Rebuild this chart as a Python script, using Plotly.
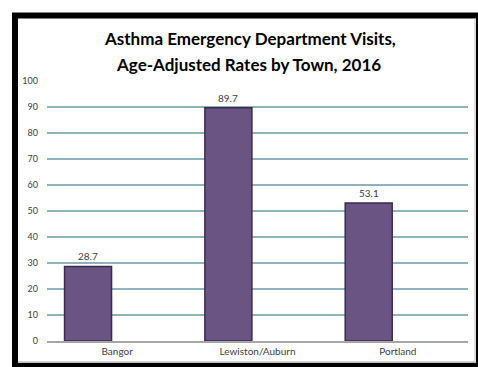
import plotly.graph_objects as go

towns = ["Bangor", "Lewiston/Auburn", "Portland"]
rates = [28.7, 89.7, 53.1]
y_ticks = [0, 10, 20, 30, 40, 50, 60, 70, 80, 90, 100]

W, H = 478, 367
L, R, T, B = 47, 10, 81, 24
PW, PH = W - L - R, H - T - B

def px(x):
    return (x - L) / PW

def py(y):
    return (H - B - y) / PH

BAR_W = 0.335
BAR_OFF = -0.375
slot_px = PW / len(towns)
label_shift = (BAR_OFF + BAR_W / 2) * slot_px

fig = go.Figure(go.Bar(
    x=towns, y=rates,
    width=BAR_W, offset=BAR_OFF,
    marker=dict(color="#6a5484", line=dict(color="#3b2b4c", width=1.5)),
))

shapes = [
    dict(type="rect", xref="paper", yref="paper",
         x0=px(15), x1=px(479), y0=py(15), y1=py(368),
         line=dict(color="black", width=6), fillcolor="rgba(0,0,0,0)", layer="above"),
    dict(type="line", xref="paper", yref="paper",
         x0=px(475), x1=px(475), y0=py(18), y1=py(364),
         line=dict(color="#bdbdbd", width=1)),
    dict(type="line", xref="paper", yref="paper",
         x0=px(18), x1=px(475), y0=py(364), y1=py(364),
         line=dict(color="#bdbdbd", width=1)),
]

annotations = [
    dict(text="<b>Asthma Emergency Department Visits,</b>", xref="paper", yref="paper",
         x=px(250), y=py(38), showarrow=False, xanchor="center", yanchor="middle",
         font=dict(family="Lato", size=17, color="#000000")),
    dict(text="<b>Age-Adjusted Rates by Town, 2016</b>", xref="paper", yref="paper",
         x=px(248), y=py(64), showarrow=False, xanchor="center", yanchor="middle",
         font=dict(family="Lato", size=17, color="#000000")),
]
for t, v in zip(towns, rates):
    annotations.append(dict(
        text=f"{v:.1f}", x=t, y=v, xref="x", yref="y", showarrow=False,
        xanchor="center", yanchor="middle", xshift=label_shift, yshift=10,
        font=dict(family="Lato", size=10, color="#404040")))

fig.update_layout(
    width=W, height=H,
    margin=dict(l=L, r=R, t=T, b=B),
    paper_bgcolor="white", plot_bgcolor="white",
    showlegend=False,
    shapes=shapes,
    annotations=annotations,
    font=dict(family="Lato", color="#404040"),
    xaxis=dict(showgrid=False, showline=True, linecolor="#a6a6a6", linewidth=2,
               ticks="", tickfont=dict(size=10, color="#404040")),
    yaxis=dict(range=[0, 100], tickvals=y_ticks, showgrid=True,
               gridcolor="#8db3c1", gridwidth=2, zeroline=False,
               ticks="", ticklabelstandoff=8,
               tickfont=dict(size=9, color="#404040")),
)

fig.write_html("out.html")
